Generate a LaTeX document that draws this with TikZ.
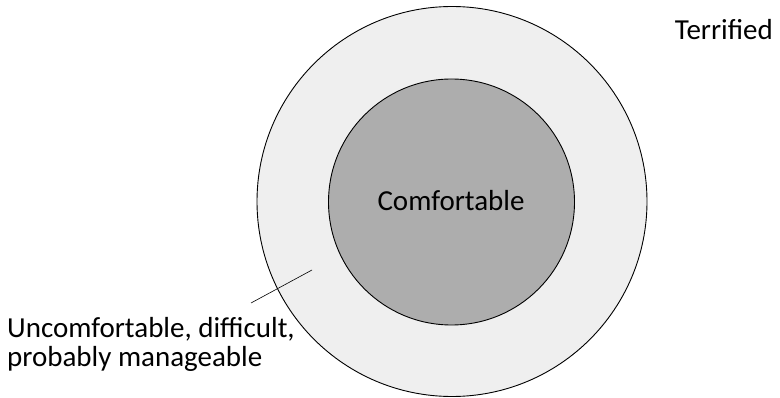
\documentclass[tikz,border=0pt]{standalone}
\usepackage{fontspec}
\setmainfont{Carlito}
\usetikzlibrary{positioning}
\definecolor{ZoneLight}{HTML}{EFEFEF}
\definecolor{ZoneDark}{HTML}{ADADAD}

\begin{document}
\begin{tikzpicture}[x=1pt,y=-1pt,font=\fontsize{29}{29.5}\selectfont,
    zone/.style={circle,draw=black,line width=0.9pt,inner sep=0pt}]
  \useasboundingbox (0,0) rectangle (780,398);
  \node[zone,fill=ZoneLight,minimum size=390pt] (outer) at (452,201.5) {};
  \node[zone,fill=ZoneDark,minimum size=246pt] (inner) at (451.5,202) {};
  \node[anchor=base] (comfort) at (451,211) {Comfortable};
  \node[anchor=base east,inner sep=0pt] (terror) at (773,39.5) {Terrified};
  % base of a two-line node is its last line
  \node[anchor=base west,align=left,inner sep=0pt] (stretch) at (7,366.7)
      {Uncomfortable, difficult,\\probably manageable};
  \coordinate (tipA) at (251,303);
  \coordinate (tipB) at (312,270);
  \draw[line width=0.6pt] (tipA)--(tipB);
\end{tikzpicture}
\end{document}
